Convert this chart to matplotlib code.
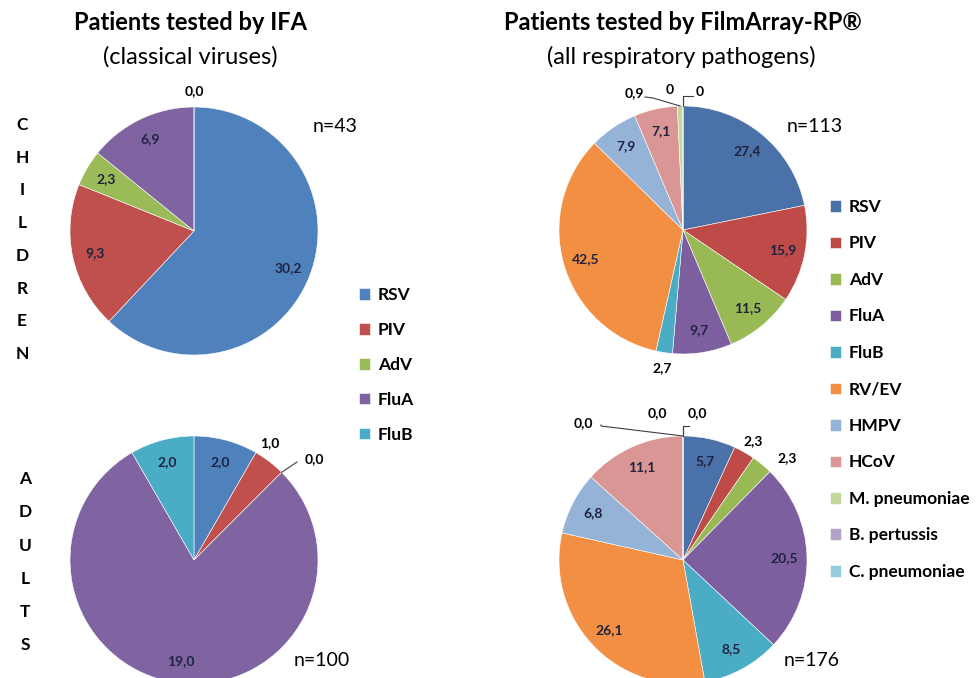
import numpy as np
import matplotlib
matplotlib.use('Agg')
import matplotlib.pyplot as plt

plt.rcParams['font.family'] = ['Lato', 'DejaVu Sans']

# data
ifa_names = ['RSV', 'PIV', 'AdV', 'FluA', 'FluB']
ifa_children = [30.2, 9.3, 2.3, 6.9, 0.0]
ifa_adults = [2.0, 1.0, 0.0, 19.0, 2.0]

fa_names = ['RSV', 'PIV', 'AdV', 'FluA', 'FluB', 'RV/EV', 'HMPV', 'HCoV',
            'M. pneumoniae', 'B. pertussis', 'C. pneumoniae']
fa_children = [27.4, 15.9, 11.5, 9.7, 2.7, 42.5, 7.9, 7.1, 0.9, 0.0, 0.0]
fa_adults = [5.7, 2.3, 2.3, 20.5, 8.5, 26.1, 6.8, 11.1, 0.0, 0.0, 0.0]

n_labels = ['n=43', 'n=100', 'n=113', 'n=176']

ifa_colors = ['#4F81BD', '#C0504D', '#9BBB59', '#8064A2', '#4BACC6']
fa_colors = ['#4A72A8', '#BE4B48', '#98B954', '#7D5FA0', '#4AACC5', '#F38F43',
             '#95B3D7', '#D99694', '#C3D69B', '#B3A2C7', '#93CDDD']

W, H = 977, 678
fig = plt.figure(figsize=(W / 100, H / 100), dpi=100)
ax = fig.add_axes([0, 0, 1, 1])


def Y(y):
    return H - y


def fmt(v, short_zero=False):
    if short_zero and v == 0:
        return '0'
    return ('%.1f' % v).replace('.', ',')


def draw_pie(values, colors, cx, cy, r, outside, short_zero=False):
    wedges, _ = ax.pie(values, colors=colors, startangle=90, counterclock=False,
                       center=(cx, Y(cy)), radius=r,
                       wedgeprops=dict(edgecolor='white', linewidth=0.4))
    for i, w in enumerate(wedges):
        txt = fmt(values[i], short_zero)
        if i in outside:
            dx, dy, lead = outside[i]
            a = np.deg2rad(w.theta1 if values[i] == 0 else (w.theta1 + w.theta2) / 2)
            ex, ey = cx + r * np.cos(a), Y(cy) + r * np.sin(a)
            ax.text(cx + dx, Y(cy) + dy, txt, ha='center', va='center',
                    fontsize=10, fontweight='bold', color='black')
            if lead is not None:
                lx, ly = lead
                ax.plot([ex, cx + lx[0], cx + lx[1]], [ey, Y(cy) + ly[0], Y(cy) + ly[1]],
                        color='#404040', lw=0.8)
            continue
        if values[i] == 0:
            continue
        a = np.deg2rad((w.theta1 + w.theta2) / 2)
        ax.text(cx + 0.82 * r * np.cos(a), Y(cy) + 0.82 * r * np.sin(a), txt,
                ha='center', va='center', fontsize=10, fontweight='bold',
                color='#1F2340')
    return wedges


r = 124
# children IFA
w1 = draw_pie(ifa_children, ifa_colors, 194, 231, r,
              {4: (0, 140, None)})
# adults IFA
draw_pie(ifa_adults, ifa_colors, 194, 560, r,
         {1: (76, 117, None), 2: (120, 101, ((103, 103), (98, 98)))})
# children FilmArray
w3 = draw_pie(fa_children, fa_colors, 683, 230, r,
              {4: (-21, -138, None),
               8: (-49, 137, ((-30, -38), (132, 133))),
               9: (-13, 140, ((0, 0), (134, 134))),
               10: (17, 138, ((0, 10), (134, 134)))},
              short_zero=True)
# adults FilmArray
draw_pie(fa_adults, fa_colors, 683, 560, r,
         {1: (70, 119, None), 2: (104, 102, None),
          8: (-100, 137, ((-82, -82), (134, 135))),
          9: (-26, 147, ((0, 0), (134, 134))),
          10: (14, 147, ((0, 6), (134, 134)))})

ax.set_xlim(0, W)
ax.set_ylim(0, H)
ax.set_aspect('equal')
ax.axis('off')

# titles
ax.text(190, Y(22), 'Patients tested by IFA', ha='center', va='center',
        fontsize=17, fontweight='bold')
ax.text(190, Y(57), '(classical viruses)', ha='center', va='center', fontsize=17)
ax.text(683, Y(22), 'Patients tested by FilmArray-RP\u00ae', ha='center', va='center',
        fontsize=17, fontweight='bold')
ax.text(681, Y(57), '(all respiratory pathogens)', ha='center', va='center',
        fontsize=17)

# n labels
for (x, y), s in zip([(335, 127), (322, 660), (815, 127), (812, 660)], n_labels):
    ax.text(x, Y(y), s, ha='center', va='center', fontsize=14)

# side letters
for i, ch in enumerate('CHILDREN'):
    ax.text(22, Y(125 + i * 32.7), ch, ha='center', va='center', fontsize=12.5,
            fontweight='bold')
for i, ch in enumerate('ADULTS'):
    ax.text(25, Y(479 + i * 33.3), ch, ha='center', va='center', fontsize=12.5,
            fontweight='bold')

# legends
leg1 = ax.legend(w1, ifa_names, loc='upper left', bbox_to_anchor=(359, Y(287)),
                 bbox_transform=ax.transData, frameon=False,
                 prop=dict(weight='bold', size=12.5), handlelength=0.65,
                 handleheight=0.65, handletextpad=0.45, labelspacing=1.09,
                 borderaxespad=0, borderpad=0)
ax.add_artist(leg1)
ax.legend(w3, fa_names, loc='upper left', bbox_to_anchor=(830, Y(199)),
          bbox_transform=ax.transData, frameon=False,
          prop=dict(weight='bold', size=12.5), handlelength=0.65,
          handleheight=0.65, handletextpad=0.45, labelspacing=1.18,
          borderaxespad=0, borderpad=0)

fig.savefig('out.png', dpi=100)
